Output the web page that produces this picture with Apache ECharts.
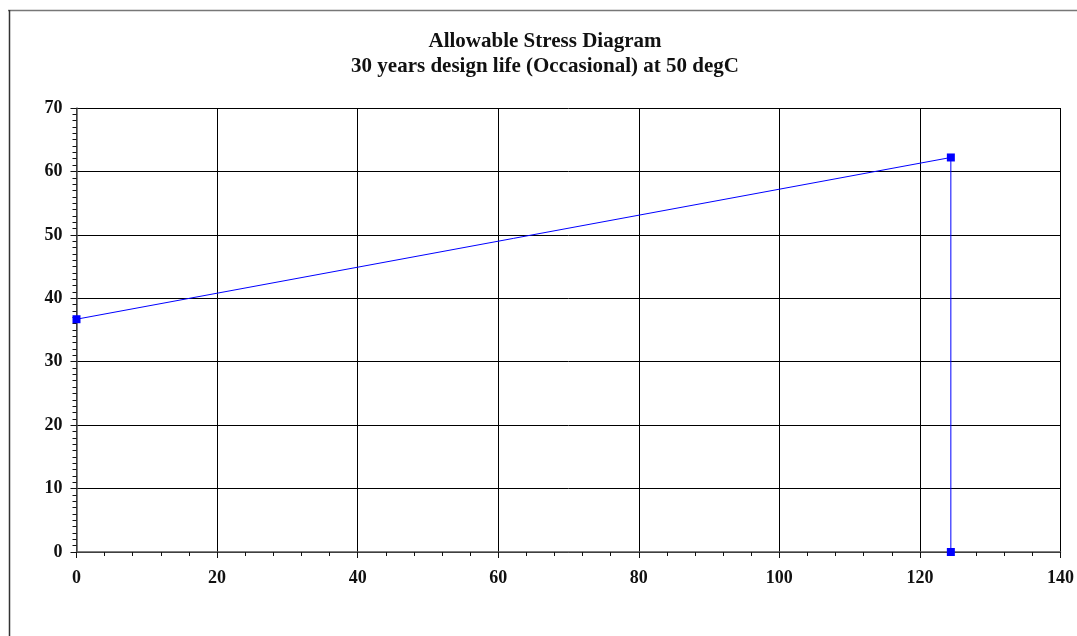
<!DOCTYPE html>
<html>
<head>
<meta charset="utf-8">
<script src="https://cdn.jsdelivr.net/npm/echarts@6/dist/echarts.min.js"></script>
<style>
  html, body { margin: 0; padding: 0; background: #fff; }
  #chart { width: 1077px; height: 636px; }
</style>
</head>
<body>
<div id="chart"></div>
<script>
// Allowable stress envelope: stress vs. temperature/load points
const titleLines = ['Allowable Stress Diagram', '30 years design life (Occasional) at 50 degC'];
const xValues = [0, 124.4, 124.4];
const yValues = [36.7, 62.2, 0];
const xTicks = { min: 0, max: 140, interval: 20 };
const yTicks = { min: 0, max: 70, interval: 10 };

const serif = '"Liberation Serif", "DejaVu Serif", serif';
const chart = echarts.init(document.getElementById('chart'));

chart.setOption({
  backgroundColor: '#fff',
  animation: false,
  title: {
    text: titleLines.join('\n'),
    left: 540,
    top: 24,
    textAlign: 'center',
    textStyle: {
      fontFamily: serif,
      fontWeight: 'bold',
      fontSize: 21,
      lineHeight: 25,
      color: '#111'
    }
  },
  graphic: [
    { type: 'line', shape: { x1: 8, y1: 10.5, x2: 1077, y2: 10.5 }, style: { stroke: '#777', lineWidth: 1.5 } },
    { type: 'line', shape: { x1: 9.5, y1: 10, x2: 9.5, y2: 636 }, style: { stroke: '#333', lineWidth: 1.5 } }
  ],
  grid: { left: 76.5, right: 16, top: 108, bottom: 84, containLabel: false },
  xAxis: {
    type: 'value',
    min: xTicks.min, max: xTicks.max, interval: xTicks.interval,
    axisLine: { show: true, onZero: false, lineStyle: { color: '#555', width: 1.5 } },
    axisTick: { show: true, length: 6, lineStyle: { color: '#111' } },
    minorTick: { show: true, splitNumber: 5, length: 4, lineStyle: { color: '#111' } },
    splitLine: { show: true, lineStyle: { color: '#000', width: 1 } },
    axisLabel: { margin: 17, fontFamily: serif, fontWeight: 'bold', fontSize: 18, color: '#111' }
  },
  yAxis: {
    type: 'value',
    min: yTicks.min, max: yTicks.max, interval: yTicks.interval,
    axisLine: { show: true, onZero: false, lineStyle: { color: '#555', width: 1.5 } },
    axisTick: { show: true, length: 6, lineStyle: { color: '#111' } },
    minorTick: { show: true, splitNumber: 10, length: 4, lineStyle: { color: '#111' } },
    splitLine: { show: true, lineStyle: { color: '#000', width: 1 } },
    axisLabel: { margin: 14, fontFamily: serif, fontWeight: 'bold', fontSize: 18, color: '#111' }
  },
  series: [{
    type: 'line',
    data: xValues.map((x, i) => [x, yValues[i]]),
    symbol: 'rect',
    symbolSize: 8,
    showAllSymbol: true,
    lineStyle: { color: '#0000ff', width: 1 },
    itemStyle: { color: '#0000ff' }
  }]
});
</script>
</body>
</html>
